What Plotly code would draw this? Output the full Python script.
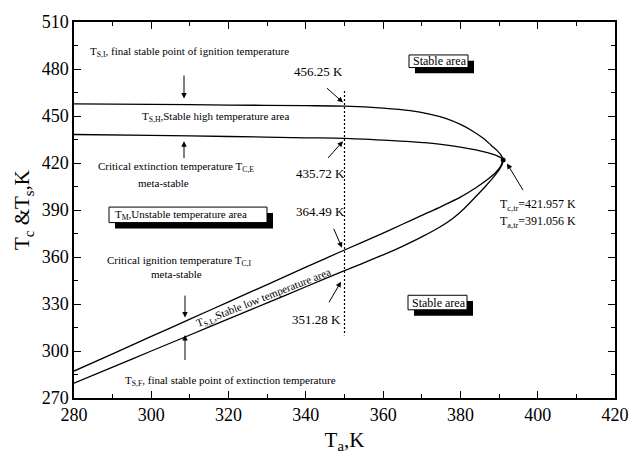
import plotly.graph_objects as go

# ---- data -------------------------------------------------------------
# stable high-temperature branch T_S,H
ta_sh = [280, 300, 320, 340, 350, 360, 367, 372, 376, 380, 383, 386, 388, 389.5, 390.5, 391.056]
t_sh = [457.7, 457.4, 457.0, 456.6, 456.25, 455.0, 453.4, 451.2, 448.6, 444.6, 440.6,
        435.6, 431.2, 427.9, 425.0, 421.957]

# critical extinction branch T_C,E
ta_ce = [280, 300, 320, 340, 350, 360, 367, 375, 380, 384, 387, 389.5, 390.5, 391.056]
t_ce = [438.2, 437.6, 436.9, 436.1, 435.72, 434.6, 433.6, 431.9, 430.2, 428.4, 426.6,
        424.6, 423.3, 421.957]

# critical ignition branch T_C,I
ta_ci = [280, 290, 300, 310, 320, 330, 340, 350, 360, 365, 370, 375, 380, 384, 387, 389,
         390.3, 391.056]
t_ci = [287.2, 298.2, 309.3, 320.3, 331.4, 342.4, 353.5, 364.49, 375.3, 380.9, 386.6,
        392.2, 398.2, 404.2, 409.4, 413.6, 417.6, 421.957]

# stable low-temperature branch T_S,L
ta_sl = [280, 290, 300, 310, 320, 330, 340, 350, 360, 365, 370, 375, 378, 381, 384, 386.5,
         388.5, 390, 390.8, 391.056]
t_sl = [279.4, 289.7, 300.0, 310.2, 320.5, 330.7, 341.0, 351.28, 361.3, 366.8, 372.8,
        379.6, 384.6, 391.0, 398.6, 405.2, 410.8, 415.6, 419.0, 421.957]

# turning point
ta_tr = [391.056]
t_tr = [421.957]

# reference line at T_a = 350 K
ref_ta = [350, 350]
ref_t = [466, 310]

x_range = [280, 420]
y_range = [270, 510]
x_ticks = [280, 300, 320, 340, 360, 380, 400, 420]
y_ticks = [270, 300, 330, 360, 390, 420, 450, 480, 510]

# ---- layout geometry --------------------------------------------------
W, H = 642, 460
ML, MR, MT, MB = 74, 27, 16, 56
FONT = "Liberation Serif, Times New Roman, Times, serif"


def fx(px):
    """pixel column -> T_a"""
    return x_range[0] + (px - ML) * (x_range[1] - x_range[0]) / (W - ML - MR)


def fy(py):
    """pixel row -> T"""
    return y_range[1] - (py - MT) * (y_range[1] - y_range[0]) / (H - MT - MB)


fig = go.Figure()

line_style = dict(color="black", width=1.3, shape="spline", smoothing=0.8)
for xs, ys in [(ta_sh, t_sh), (ta_ce, t_ce), (ta_ci, t_ci), (ta_sl, t_sl)]:
    fig.add_trace(go.Scatter(x=xs, y=ys, mode="lines", line=line_style,
                             hoverinfo="skip", showlegend=False))

fig.add_trace(go.Scatter(x=ref_ta, y=ref_t, mode="lines",
                         line=dict(color="black", width=1.2, dash="2px,2px"),
                         showlegend=False, hoverinfo="skip"))

fig.add_trace(go.Scatter(x=ta_tr, y=t_tr, mode="markers",
                         marker=dict(color="black", size=5),
                         showlegend=False))

shapes = []
annotations = []


def boxed(x0, y0, x1, y1, text, tx, size=12, dx=6, dy=6):
    shapes.append(dict(type="rect", xref="x", yref="y",
                       x0=fx(x0 + dx), x1=fx(x1 + dx), y0=fy(y0 + dy), y1=fy(y1 + dy),
                       fillcolor="black", line=dict(width=0)))
    shapes.append(dict(type="rect", xref="x", yref="y",
                       x0=fx(x0), x1=fx(x1), y0=fy(y0), y1=fy(y1),
                       fillcolor="white", line=dict(color="black", width=1)))
    annotations.append(dict(x=fx(tx), y=fy((y0 + y1) / 2), text=text,
                            xanchor="left", yanchor="middle", showarrow=False,
                            font=dict(family=FONT, size=size, color="black")))


def label(px, py, text, anchor="center", size=11, angle=0):
    annotations.append(dict(x=fx(px), y=fy(py), text=text, xanchor=anchor,
                            yanchor="middle", showarrow=False, textangle=angle,
                            font=dict(family=FONT, size=size, color="black")))


def arrow(tail, tip):
    annotations.append(dict(x=fx(tip[0]), y=fy(tip[1]), text=" ",
                            ax=tail[0] - tip[0], ay=tail[1] - tip[1],
                            axref="pixel", ayref="pixel",
                            showarrow=True, arrowhead=2, arrowsize=1.1,
                            arrowwidth=1, arrowcolor="black", standoff=0,
                            font=dict(family=FONT, size=4)))


# boxed region names
boxed(409, 50, 468, 63, "Stable area", 411)
boxed(408, 298, 467, 313, "Stable area", 410)
boxed(109, 207, 267, 223, "T<sub>M</sub>,Unstable temperature area", 113, size=11)

# branch descriptions
label(88, 47, "T<sub>S,I</sub>, final stable point of ignition temperature", anchor="left")
arrow((184, 68), (184, 95))
label(215, 114, "T<sub>S,H</sub>,Stable high temperature area")
arrow((184, 160), (184, 139))
label(176, 166, "Critical extinction temperature T<sub>C,E</sub>")
label(163, 182, "meta-stable")
label(179, 263, "Critical ignition temperature T<sub>C,I</sub>")
label(176, 276, "meta-stable")
arrow((185, 295), (185, 321))
label(264, 301, "T<sub>S,L</sub>,Stable low temperature area", angle=-21.4)
arrow((185, 368), (185, 339))
label(123, 386, "T<sub>S,F</sub>, final stable point of extinction temperature", anchor="left")

# values on the T_a = 350 K line
label(318, 67, "456.25 K", size=13)
arrow((325, 83), (343, 99))
label(320, 172, "435.72 K", size=13)
arrow((326, 158), (343, 139))
label(320, 212, "364.49 K", size=13)
arrow((332, 226), (342, 249))
label(316, 323, "351.28 K", size=13)
arrow((327, 308), (341, 284))

# turning point
label(498, 205, "T<sub>c,tr</sub>=421.957 K", anchor="left", size=12)
label(498, 222, "T<sub>a,tr</sub>=391.056 K", anchor="left", size=12)
arrow((525, 192), (507, 162))

axis_common = dict(showline=True, linecolor="black", linewidth=1.5, mirror="ticks",
                   ticks="inside", ticklen=7, tickwidth=1.2, tickcolor="black",
                   showgrid=False, zeroline=False,
                   tickfont=dict(family=FONT, size=18, color="black"))

fig.update_xaxes(range=x_range, tickvals=x_ticks,
                 minor=dict(ticks="inside", dtick=10, ticklen=4, tickwidth=1.2,
                            tickcolor="black", showgrid=False),
                 title=dict(text="T<sub>a</sub>,K", font=dict(family=FONT, size=21, color="black"),
                            standoff=8),
                 **axis_common)
fig.update_yaxes(range=y_range, tickvals=y_ticks,
                 minor=dict(ticks="inside", dtick=15, ticklen=4, tickwidth=1.2,
                            tickcolor="black", showgrid=False),
                 title=dict(text="T<sub>c</sub> &T<sub>s</sub>,K",
                            font=dict(family=FONT, size=21, color="black"), standoff=6),
                 **axis_common)

fig.update_layout(width=W, height=H, margin=dict(l=ML, r=MR, t=MT, b=MB),
                  font=dict(family=FONT, color="black"),
                  paper_bgcolor="white", plot_bgcolor="white",
                  shapes=shapes, annotations=annotations, showlegend=False)

fig.write_html("out.html")
